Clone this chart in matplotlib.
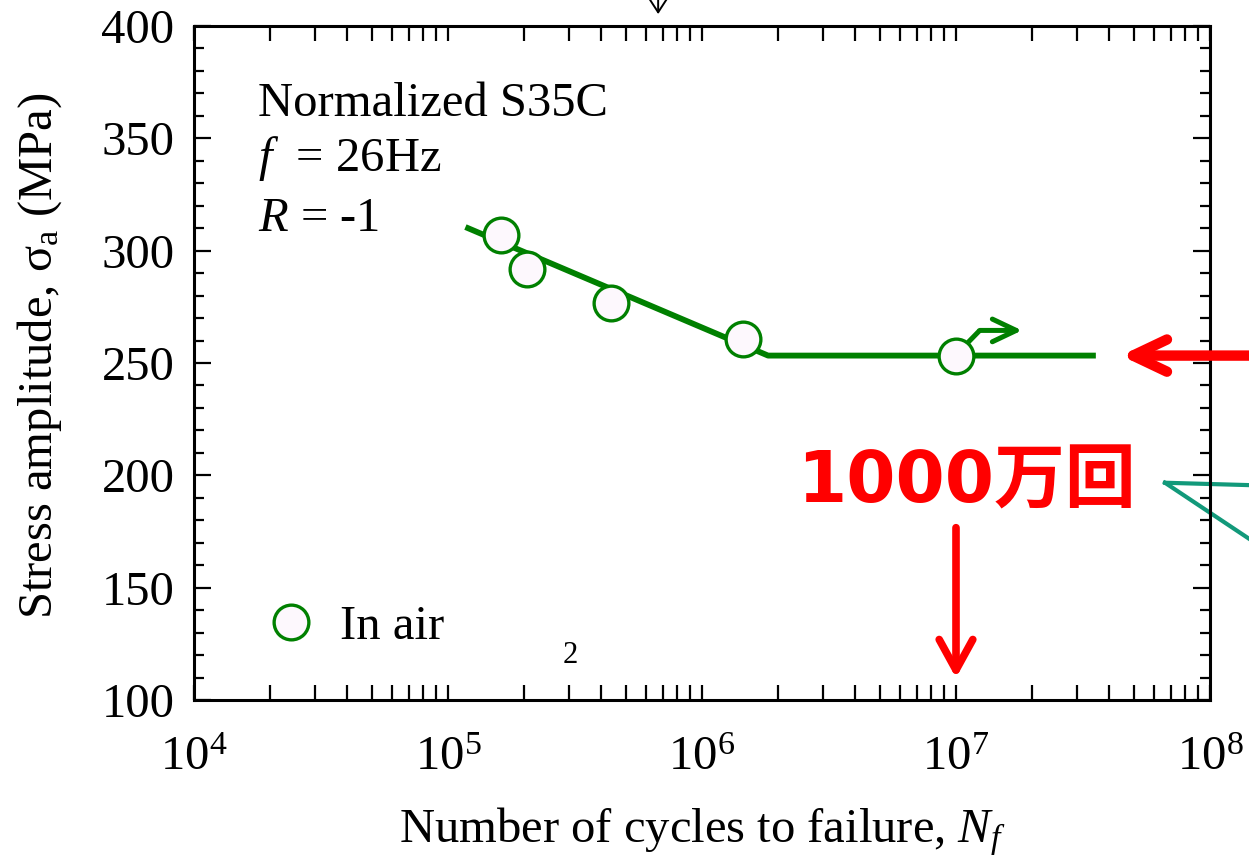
import numpy as np
import matplotlib
matplotlib.use('Agg')
import matplotlib.pyplot as plt
from matplotlib.ticker import LogLocator, MultipleLocator

plt.rcParams['font.family'] = ['Liberation Serif', 'DejaVu Serif']
plt.rcParams['mathtext.fontset'] = 'custom'
plt.rcParams['mathtext.rm'] = 'Liberation Serif'
plt.rcParams['mathtext.it'] = 'Liberation Serif:italic'
plt.rcParams['font.size'] = 35

# S-N data (in air)
cycles = [1.62e5, 2.05e5, 4.38e5, 1.45e6, 1.0e7]
stress = [306.8, 291.7, 276.5, 260.9, 253.3]

# fitted S-N curve (sloped part + fatigue limit)
fit_cycles = [1.2e5, 1.82e6, 3.46e7]
fit_stress = [310.0, 253.3, 253.3]

green = '#008000'
face = '#fdf8fd'

fig = plt.figure(figsize=(12.49, 8.57), dpi=100)
ax = fig.add_axes([194/1249, 1-700/857, 1016/1249, 674/857])

ax.plot(fit_cycles, fit_stress, color=green, lw=4.2, zorder=2)
ax.plot(cycles, stress, 'o', ms=25, mfc=face, mec=green, mew=2.4, zorder=3,
        label='In air', ls='none')

# run-out arrow on the last point
ax.plot([1.114e7, 1.24e7], [259.1, 264.5], color=green, lw=3.6, zorder=2,
        solid_capstyle='butt')
ax.annotate('', xy=(1.82e7, 264.5), xytext=(1.24e7, 264.5),
            arrowprops=dict(arrowstyle='->,head_length=0.4,head_width=0.19',
                            mutation_scale=43, lw=3.6, color=green,
                            shrinkA=0, shrinkB=0))

ax.set_xscale('log')
ax.set_xlim(1e4, 1e8)
ax.set_ylim(100, 400)
ax.xaxis.set_major_locator(LogLocator(base=10, numticks=10))
ax.xaxis.set_minor_locator(LogLocator(base=10, subs=np.arange(2, 10), numticks=50))
ax.yaxis.set_major_locator(MultipleLocator(50))
ax.yaxis.set_minor_locator(MultipleLocator(10))

ax.tick_params(axis='x', which='both', direction='in', top=True, bottom=True,
               length=11, width=1.6, pad=26)
ax.tick_params(axis='y', which='major', direction='in', left=True, right=True,
               length=12, width=1.6, pad=14)
ax.tick_params(axis='y', which='minor', direction='in', left=True, right=True,
               length=7, width=1.6)
for s in ax.spines.values():
    s.set_linewidth(2.2)

ax.set_xlabel(r'Number of cycles to failure, $N_f$', va='center')
ax.xaxis.set_label_coords(0.5, -0.195)
ax.set_ylabel('Stress amplitude, σ$_{\\rm a}$ (MPa)', va='center')
ax.yaxis.set_label_coords(-0.1516, 0.51)

ax.text(1.786e4, 359.9, 'Normalized S35C', ha='left', va='baseline')
ax.text(1.786e4, 335.4, r'$f$  = 26Hz', ha='left', va='baseline')
ax.text(1.786e4, 308.6, r'$R$ = -1', ha='left', va='baseline')
ax.text(3.02e5, 120.0, '2', fontsize=22, ha='center', va='center')

ax.legend(loc='center left', bbox_to_anchor=(0.0716, 0.108), frameon=False,
          handlelength=1.0, handletextpad=0.5, borderpad=0, borderaxespad=0,
          numpoints=1)

# red annotations
ax.annotate('', xy=(4.46e7, 253.3), xytext=(1.7e8, 253.3),
            arrowprops=dict(arrowstyle='->,head_length=0.4,head_width=0.19',
                            mutation_scale=61, lw=7.5, color='red',
                            capstyle='round', joinstyle='round',
                            shrinkA=0, shrinkB=0),
            annotation_clip=False)
ax.annotate('', xy=(1e7, 109.8), xytext=(1e7, 176.7),
            arrowprops=dict(arrowstyle='->,head_length=0.4,head_width=0.22',
                            mutation_scale=55, lw=5.5, color='red',
                            capstyle='round', joinstyle='round',
                            shrinkA=0, shrinkB=0))
ax.text(1.1e7, 196.7, '1000万回', color='red', fontsize=51, fontweight='bold',
        family=['DejaVu Sans', 'Noto Sans CJK JP'], ha='center', va='center')

# teal callout lines
teal = '#12997a'
ax.plot([6.65e7, 1.7e8], [196.7, 195.4], color=teal, lw=3, clip_on=False)
ax.plot([6.65e7, 1.7e8], [196.7, 166.0], color=teal, lw=3, clip_on=False)

# small arrow from above the frame
ax.annotate('', xy=(6.72e5, 405.3), xytext=(6.72e5, 425),
            arrowprops=dict(arrowstyle='->,head_length=0.4,head_width=0.26',
                            mutation_scale=27, lw=1.4, color='black',
                            shrinkA=0, shrinkB=0),
            annotation_clip=False)

fig.savefig('out.png', dpi=100)
